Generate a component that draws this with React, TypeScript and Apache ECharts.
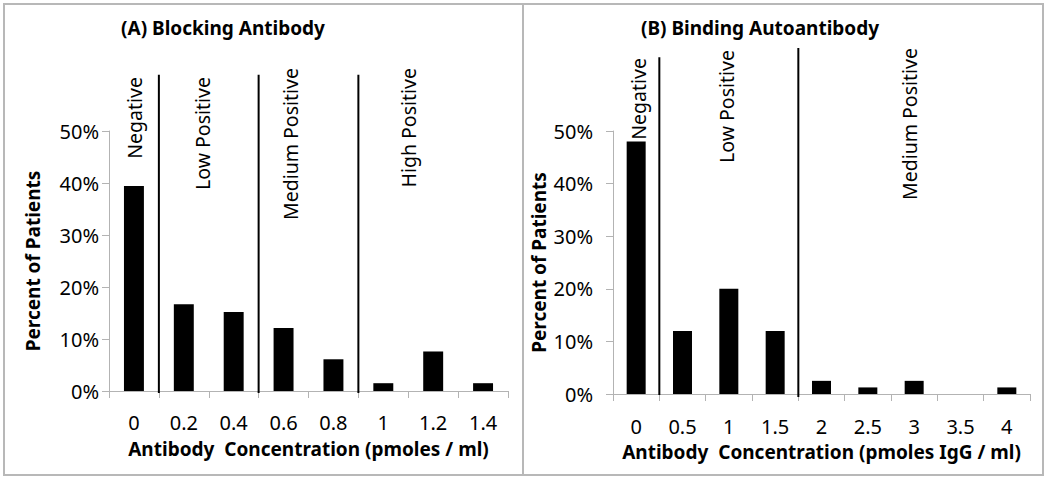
import React, { useEffect, useRef } from "react";
import * as echarts from "echarts";

// ---- data ----
const catsA = ["0", "0.2", "0.4", "0.6", "0.8", "1", "1.2", "1.4"];
const valsA = [39.4, 16.7, 15.2, 12.1, 6.1, 1.5, 7.6, 1.5];
const catsB = ["0", "0.5", "1", "1.5", "2", "2.5", "3", "3.5", "4"];
const valsB = [48, 12, 20, 12, 2.5, 1.25, 2.5, 0, 1.25];
const zonesA = ["Negative", "Low Positive", "Medium Positive", "High Positive"];
const zoneStartA = [0, 1, 3, 5];
const zonesB = ["Negative", "Low Positive", "Medium Positive"];
const zoneStartB = [0, 1, 4];
const yTicks = [0, 10, 20, 30, 40, 50];

const titleA = "(A) Blocking Antibody";
const titleB = "(B) Binding Autoantibody";
const xNameA = "Antibody  Concentration (pmoles / ml)";
const xNameB = "Antibody  Concentration (pmoles IgG / ml)";
const yName = "Percent of Patients";

// ---- layout (not data) ----
const FONT = "'Noto Sans', 'Open Sans', sans-serif";
const layoutA = [
  { cat: 0, off: 0.02, top: 77, lineTop: 60.8, lineExt: 2 },
  { cat: 1, off: 0.38, top: 77, lineTop: 60.8, lineExt: 2 },
  { cat: 3, off: 0.13, top: 68, lineTop: 60.8, lineExt: 2 },
  { cat: 5, off: 0.5, top: 68, lineTop: 60.8, lineExt: 2 },
];
const layoutB = [
  { cat: 0, off: 0.04, top: 58, lineTop: 64, lineExt: 1 },
  { cat: 2, off: -0.04, top: 50, lineTop: 64, lineExt: 1 },
  { cat: 6, off: -0.09, top: 48, lineTop: 65.8, lineExt: 3 },
];

function zoneSeries(idx: number, starts: number[], names: string[], layout: any[]) {
  return {
    type: "custom",
    xAxisIndex: idx,
    yAxisIndex: idx,
    silent: true,
    clip: false,
    z: 5,
    data: starts.map((s, i) => [s, i]),
    renderItem: (params: any, api: any) => {
      const start = api.value(0);
      const i = api.value(1);
      const L = layout[i];
      const band = api.size([1, 0])[0];
      const base = api.coord([start, 0]);
      const children: any[] = [];
      if (start > 0) {
        const x = base[0] - band / 2;
        const top = api.coord([start, L.lineTop])[1];
        children.push({
          type: "line",
          shape: { x1: x, y1: top, x2: x, y2: base[1] + L.lineExt },
          style: { stroke: "#000", lineWidth: 2 },
        });
      }
      const lx = api.coord([L.cat, 0])[0] + L.off * band;
      children.push({
        type: "text",
        x: lx,
        y: L.top,
        rotation: Math.PI / 2,
        style: {
          text: names[i],
          align: "right",
          verticalAlign: "middle",
          fontSize: 19.5,
          fontFamily: FONT,
          fill: "#000",
        },
      });
      return { type: "group", children };
    },
  };
}

const axisGray = "#b3b3b3";

function xAxis(idx: number, cats: string[], name: string, margin: number) {
  return {
    type: "category",
    gridIndex: idx,
    data: cats,
    name,
    nameLocation: "middle",
    nameGap: 48,
    nameTextStyle: { fontSize: 19, fontWeight: "bold", fontFamily: FONT, color: "#000" },
    axisLine: { lineStyle: { color: axisGray, width: 1 } },
    axisTick: { show: true, length: 7, interval: 0, lineStyle: { color: axisGray } },
    axisLabel: { fontSize: 20, fontFamily: FONT, color: "#000", margin, interval: 0 },
    splitLine: { show: false },
  };
}

function yAxis(idx: number, margin: number, gap: number) {
  return {
    type: "value",
    gridIndex: idx,
    min: yTicks[0],
    max: yTicks[yTicks.length - 1],
    interval: yTicks[1] - yTicks[0],
    name: yName,
    nameLocation: "middle",
    nameGap: gap,
    nameTextStyle: { fontSize: 19, fontWeight: "bold", fontFamily: FONT, color: "#000" },
    axisLine: { show: true, lineStyle: { color: axisGray, width: 1 } },
    axisTick: { show: true, length: 7, lineStyle: { color: axisGray } },
    axisLabel: { fontSize: 20, fontFamily: FONT, color: "#000", margin, formatter: "{value}%" },
    splitLine: { show: false },
  };
}

export default function App() {
  const ref = useRef<HTMLDivElement>(null);
  useEffect(() => {
    if (!ref.current) return;
    const chart = echarts.init(ref.current, null, { renderer: "svg" });
    chart.setOption({
      animation: false,
      backgroundColor: "#fff",
      grid: [
        { left: 109, top: 131, width: 399, height: 260 },
        { left: 613, top: 131, width: 417, height: 263 },
      ],
      xAxis: [xAxis(0, catsA, xNameA, 21), xAxis(1, catsB, xNameB, 22)],
      yAxis: [yAxis(0, 10, 67), yAxis(1, 20, 65)],
      series: [
        {
          type: "bar",
          xAxisIndex: 0,
          yAxisIndex: 0,
          data: valsA,
          barWidth: "40%",
          itemStyle: { color: "#000" },
        },
        {
          type: "bar",
          xAxisIndex: 1,
          yAxisIndex: 1,
          data: valsB,
          barWidth: "41%",
          itemStyle: { color: "#000" },
        },
        zoneSeries(0, zoneStartA, zonesA, layoutA),
        zoneSeries(1, zoneStartB, zonesB, layoutB),
      ],
      graphic: [
        {
          type: "rect",
          shape: { x: 4, y: 4, width: 519, height: 471 },
          style: { fill: "none", stroke: "#b8b8b8", lineWidth: 2 },
          silent: true,
        },
        {
          type: "rect",
          shape: { x: 523, y: 4, width: 520, height: 471 },
          style: { fill: "none", stroke: "#b8b8b8", lineWidth: 2 },
          silent: true,
        },
        {
          type: "text",
          x: 223,
          y: 28,
          style: {
            text: titleA,
            align: "center",
            verticalAlign: "middle",
            fontSize: 19,
            fontWeight: "bold",
            fontFamily: FONT,
            fill: "#000",
          },
        },
        {
          type: "text",
          x: 760,
          y: 28,
          style: {
            text: titleB,
            align: "center",
            verticalAlign: "middle",
            fontSize: 19,
            fontWeight: "bold",
            fontFamily: FONT,
            fill: "#000",
          },
        },
      ],
    });
    return () => chart.dispose();
  }, []);
  return (
    <div
      ref={ref}
      style={{ position: "fixed", left: 0, top: 0, width: 1050, height: 484, background: "#fff" }}
    />
  );
}
